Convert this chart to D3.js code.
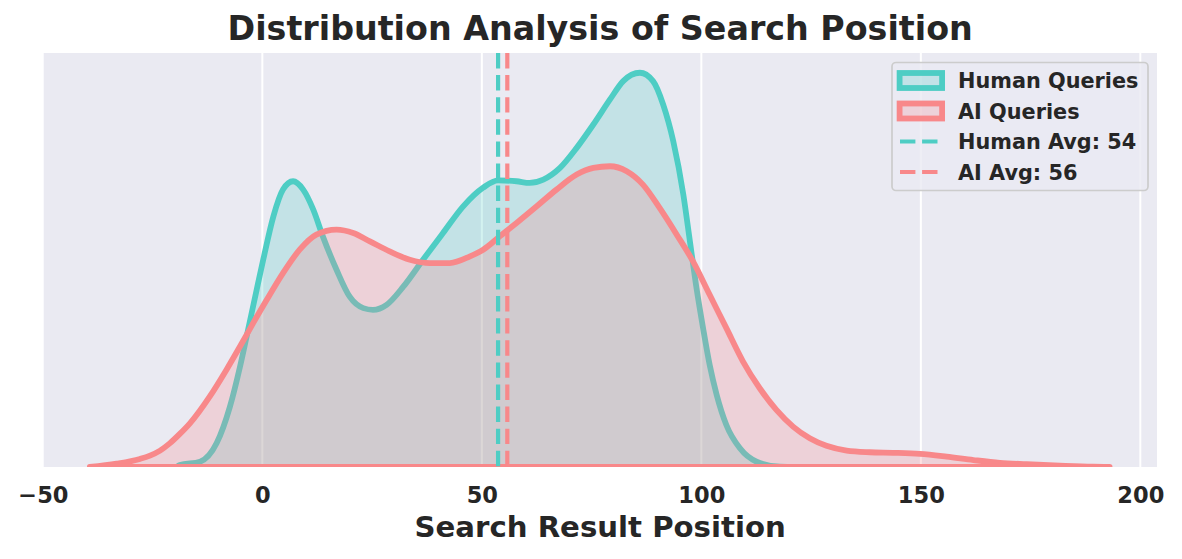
<!DOCTYPE html>
<html>
<head>
<meta charset="utf-8">
<script src="https://cdn.jsdelivr.net/npm/d3@7"></script>
<style>
  body { margin: 0; background: #fff; }
  text { font-family: "DejaVu Sans", sans-serif; font-weight: bold; fill: #262626; }
</style>
</head>
<body>
<svg id="chart" width="1182" height="559"></svg>
<script>

// kde curves (density x 1e-3)
const humanX = [-19.5, -18.8, -14.2, -10.4, -7.4, -5.1, -3.6, -1.3, 0.2, 2.5, 4.7, 7.0, 9.3, 11.6, 13.8, 16.9, 19.9, 23.0, 25.2, 28.3, 32.1, 36.6, 41.2, 45.7, 50.3, 53.7, 57.9, 60.9, 64.0, 67.8, 71.6, 75.4, 79.2, 82.2, 86.0, 89.0, 91.3, 93.6, 95.9, 97.4, 98.9, 100.4, 101.9, 103.5, 105.7, 108.8, 112.6, 117.9, 122]
const humanDensity = [0, 0.07, 0.19, 0.86, 2.16, 3.60, 4.68, 6.37, 7.45, 9.00, 9.97, 10.27, 9.97, 9.25, 8.28, 7.09, 6.12, 5.71, 5.65, 5.83, 6.48, 7.45, 8.42, 9.36, 10.04, 10.30, 10.27, 10.21, 10.33, 10.75, 11.47, 12.31, 13.21, 13.87, 14.17, 13.87, 13.03, 11.71, 9.79, 8.11, 6.43, 4.99, 3.67, 2.59, 1.51, 0.67, 0.19, 0.01, 0]

const aiX = [-39.3, -33.2, -27.9, -25.6, -23.3, -21.1, -18.8, -16.5, -12.0, -8.2, -5.1, -2.1, 1.0, 4.7, 8.5, 12.3, 16.9, 20.7, 24.5, 29.0, 33.6, 38.2, 42.7, 47.3, 50.3, 54.1, 57.9, 62.5, 67.0, 71.6, 75.4, 79.2, 83.0, 86.7, 90.5, 94.4, 98.1, 101.9, 105.7, 109.5, 113.3, 117.1, 120.9, 124.7, 128.5, 133.1, 138.4, 143.7, 149.8, 155.9, 162.0, 168.0, 174.1, 181.7, 189.2, 193.0]
const aiDensity = [0, 0.12, 0.29, 0.41, 0.59, 0.85, 1.19, 1.57, 2.53, 3.49, 4.33, 5.17, 6.01, 6.97, 7.81, 8.35, 8.53, 8.41, 8.11, 7.75, 7.45, 7.33, 7.33, 7.57, 7.81, 8.29, 8.77, 9.37, 9.97, 10.51, 10.75, 10.81, 10.63, 10.15, 9.31, 8.35, 7.39, 6.19, 4.99, 3.79, 2.83, 2.05, 1.45, 1.03, 0.76, 0.59, 0.53, 0.51, 0.47, 0.37, 0.25, 0.15, 0.10, 0.05, 0.01, 0]

const humanAvg = 53.7
const aiAvg = 55.8

const xTicks = [-50, 0, 50, 100, 150, 200]

const teal = "#4ECDC4"
const red = "#F8888A"

const margin = {left: 43.3, right: 1157, top: 53, bottom: 467}

const svg = d3.select("#chart")

const x = d3.scaleLinear()
            .domain([-49.9, 203.8])
            .range([margin.left, margin.right])
const y = d3.scaleLinear()
            .domain([0, 14.88])
            .range([margin.bottom, margin.top])

const plotW = margin.right - margin.left
const plotH = margin.bottom - margin.top

svg.append("defs").append("clipPath")
   .attr("id", "plotclip")
   .append("rect")
   .attr("x", margin.left).attr("y", margin.top)
   .attr("width", plotW).attr("height", plotH)

// background + grid
svg.append("rect")
   .attr("x", margin.left).attr("y", margin.top)
   .attr("width", plotW).attr("height", plotH)
   .attr("fill", "#EAEAF2")

const plot = svg.append("g").attr("clip-path", "url(#plotclip)")

plot.selectAll(".grid")
    .data(xTicks)
    .enter()
    .append("line")
    .attr("x1", d => x(d)).attr("x2", d => x(d))
    .attr("y1", margin.top).attr("y2", margin.bottom)
    .attr("stroke", "#fff")
    .attr("stroke-width", 2)

const area = d3.area()
               .x(d => x(d[0]))
               .y0(y(0))
               .y1(d => y(d[1]))
               .curve(d3.curveMonotoneX)

const series = [
  {pts: d3.zip(humanX, humanDensity), color: teal},
  {pts: d3.zip(aiX, aiDensity), color: red}
]

series.forEach(s => {
  plot.append("path")
      .attr("d", area(s.pts))
      .attr("fill", s.color)
      .attr("fill-opacity", 0.25)
      .attr("stroke", s.color)
      .attr("stroke-width", 5.8)
      .attr("stroke-linejoin", "round")
})

// mean lines
plot.selectAll(".avg")
    .data([[humanAvg, teal], [aiAvg, red]])
    .enter()
    .append("line")
    .attr("x1", d => x(d[0])).attr("x2", d => x(d[0]))
    .attr("y1", margin.top).attr("y2", margin.bottom)
    .attr("stroke", d => d[1])
    .attr("stroke-width", 4.2)
    .attr("stroke-dasharray", "15.4,6.7")

// x axis (no tick marks, bold labels)
const axisX = d3.axisBottom(x)
                .tickValues(xTicks)
                .tickSize(0)
                .tickPadding(0)
                .tickFormat(d => d < 0 ? "\u2212" + Math.abs(d) : d)

const gx = svg.append("g")
              .attr("transform", `translate(0, ${margin.bottom})`)
              .call(axisX)
gx.select(".domain").remove()
gx.selectAll("text")
  .attr("y", 36)
  .attr("dy", 0)
  .style("font-size", "22.5px")
  .style("font-family", "DejaVu Sans")
  .style("font-weight", "bold")
  .attr("fill", "#262626")

svg.append("text")
   .attr("x", (margin.left + margin.right) / 2)
   .attr("y", 537)
   .attr("text-anchor", "middle")
   .style("font-size", "29.2px")
   .text("Search Result Position")

svg.append("text")
   .attr("x", (margin.left + margin.right) / 2)
   .attr("y", 40)
   .attr("text-anchor", "middle")
   .style("font-size", "33.3px")
   .text("Distribution Analysis of Search Position")

// legend
const legend = svg.append("g")

legend.append("rect")
      .attr("x", 892).attr("y", 62.5)
      .attr("width", 256).attr("height", 128)
      .attr("rx", 4)
      .attr("fill", "#EAEAF2")
      .attr("fill-opacity", 0.8)
      .attr("stroke", "#CCCCCC")
      .attr("stroke-width", 1.7)

const legendItems = [
  {label: "Human Queries", color: teal, kind: "patch"},
  {label: "AI Queries", color: red, kind: "patch"},
  {label: "Human Avg: " + d3.format(".0f")(humanAvg), color: teal, kind: "line"},
  {label: "AI Avg: " + d3.format(".0f")(aiAvg), color: red, kind: "line"}
]

const rows = legend.selectAll(".row")
                   .data(legendItems)
                   .enter()
                   .append("g")
                   .attr("transform", (d, i) => `translate(0, ${80.5 + i * 30.5})`)

rows.filter(d => d.kind == "patch")
    .append("rect")
    .attr("x", 899.6).attr("y", -7.5)
    .attr("width", 42.5).attr("height", 15)
    .attr("fill", d => d.color)
    .attr("fill-opacity", 0.25)
    .attr("stroke", d => d.color)
    .attr("stroke-width", 5.8)

rows.filter(d => d.kind == "line")
    .append("line")
    .attr("x1", 900).attr("x2", 942)
    .attr("y1", 0).attr("y2", 0)
    .attr("stroke", d => d.color)
    .attr("stroke-width", 4.2)
    .attr("stroke-dasharray", "15.4,6.7")

rows.append("text")
    .attr("x", 958)
    .attr("y", 7.5)
    .style("font-size", "20.8px")
    .text(d => d.label)

</script>
</body>
</html>
